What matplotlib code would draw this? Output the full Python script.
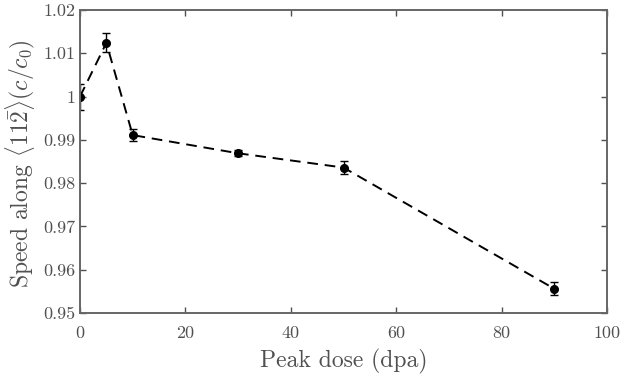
import matplotlib
matplotlib.use('Agg')
import matplotlib.pyplot as plt

# data
dose = [0, 5, 10, 30, 50, 90]
speed = [1.0000, 1.0124, 0.9911, 0.9869, 0.9836, 0.9556]
err = [0.0030, 0.0022, 0.0013, 0.0007, 0.0015, 0.0015]

xticks = [0, 20, 40, 60, 80, 100]
yticks = [0.95, 0.96, 0.97, 0.98, 0.99, 1.00, 1.01, 1.02]
ytick_labels = ['0.95', '0.96', '0.97', '0.98', '0.99', '1', '1.01', '1.02']

grey = '#505050'
plt.rcParams['font.family'] = 'serif'
plt.rcParams['font.serif'] = ['cmr10']
plt.rcParams['mathtext.fontset'] = 'cm'
plt.rcParams['axes.formatter.use_mathtext'] = True

W, H = 638, 376
fig = plt.figure(figsize=(W / 100, H / 100), dpi=100)
ax = fig.add_axes([80 / W, 1 - 313 / H, 527 / W, 303 / H])

ax.errorbar(dose, speed, yerr=err, color='black', linestyle=(0, (5.5, 3.5)),
            linewidth=1.4, marker='o', markersize=5.5, capsize=3, elinewidth=1,
            capthick=1)

ax.set_xlim(0, 100)
ax.set_ylim(0.95, 1.02)
ax.set_xticks(xticks)
ax.set_xticklabels([str(t) for t in xticks])
ax.set_yticks(yticks)
ax.set_yticklabels(ytick_labels)
ax.tick_params(direction='in', top=True, right=True, colors=grey,
               labelsize=13, length=4, width=1)
ax.tick_params(axis='x', pad=9)
ax.tick_params(axis='y', pad=3)
for s in ax.spines.values():
    s.set_color('#666666')
    s.set_linewidth(1.4)

ax.set_xlabel('Peak dose (dpa)', fontsize=17, color=grey, labelpad=6)

# y label drawn from its baseline so its placement matches the reference
fig.text(28 / W, 1 - 288 / H, r'Speed along $\langle 11\bar{2}\rangle(c/c_0)$',
         rotation=90, rotation_mode='anchor', ha='left', va='baseline',
         fontsize=17, color=grey)

fig.savefig('out.png', dpi=100)
